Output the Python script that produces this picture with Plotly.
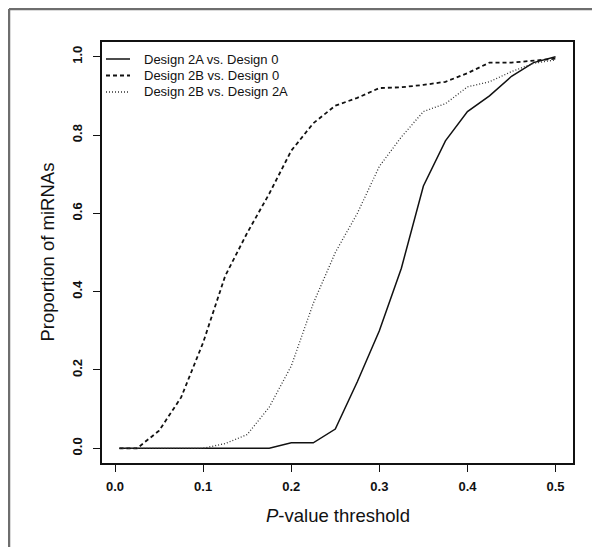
import plotly.graph_objects as go

thresholds = [0.005, 0.025, 0.05, 0.075, 0.1, 0.125, 0.15, 0.175, 0.2, 0.225, 0.25,
              0.275, 0.3, 0.325, 0.35, 0.375, 0.4, 0.425, 0.45, 0.475, 0.5]
design_2a_vs_0 = [0, 0, 0, 0, 0, 0, 0, 0, 0.014, 0.014, 0.049,
                  0.17, 0.30, 0.46, 0.67, 0.785, 0.86, 0.90, 0.95, 0.985, 1.0]
design_2b_vs_0 = [0, 0, 0.045, 0.13, 0.27, 0.44, 0.55, 0.65, 0.76, 0.83, 0.875,
                  0.895, 0.92, 0.922, 0.928, 0.936, 0.958, 0.985, 0.985, 0.99, 0.995]
design_2b_vs_2a = [0, 0, 0, 0, 0, 0.012, 0.035, 0.105, 0.21, 0.37, 0.5,
                   0.6, 0.72, 0.795, 0.86, 0.88, 0.923, 0.936, 0.962, 0.983, 0.992]

series_names = ["Design 2A vs. Design 0", "Design 2B vs. Design 0", "Design 2B vs. Design 2A"]
x_ticks = [0.0, 0.1, 0.2, 0.3, 0.4, 0.5]
y_ticks = [0.0, 0.2, 0.4, 0.6, 0.8, 1.0]

FONT = "Liberation Sans, Arial, Helvetica, sans-serif"

# the page body has an 8px margin, so the figure is sized/offset to compensate
OFF = 8
W, H = 600 - OFF, 547 - OFF
L, R, T, B = 102 - OFF, 27, 42 - OFF, 84
PW, PH = W - L - R, H - T - B


def px_x(px):  # page pixel -> paper x
    return (px - OFF - L) / PW


def px_y(py):  # page pixel -> paper y
    return (H - B - (py - OFF)) / PH


styles = [
    dict(color="#111111", width=1.5),
    dict(color="#111111", width=1.8, dash="4px,3px"),
    dict(color="#333333", width=1.3, dash="1px,2px"),
]
series = [design_2a_vs_0, design_2b_vs_0, design_2b_vs_2a]

fig = go.Figure()
for name, vals, st in zip(series_names, series, styles):
    fig.add_trace(go.Scatter(x=thresholds, y=vals, mode="lines", name=name,
                             line=st, showlegend=False))

fig.update_layout(
    width=W, height=H,
    margin=dict(l=L, r=R, t=T, b=B),
    paper_bgcolor="white", plot_bgcolor="white",
    font=dict(family=FONT, color="#111111"),
    showlegend=False,
    xaxis=dict(range=[-0.0148, 0.5198], tickvals=x_ticks, ticktext=[f"{v:.1f}" for v in x_ticks],
               showgrid=False, zeroline=False, showline=True, mirror=True,
               linecolor="#111111", linewidth=1.5, ticks="outside", ticklen=7,
               tickwidth=1.2, tickcolor="#111111", ticklabelstandoff=4,
               tickfont=dict(size=13, family=FONT, weight="bold")),
    yaxis=dict(range=[-0.0376, 1.0376], tickvals=y_ticks, ticktext=[f"{v:.1f}" for v in y_ticks],
               showgrid=False, zeroline=False, showline=True, mirror=True,
               linecolor="#111111", linewidth=1.5, ticks="outside", ticklen=7,
               tickwidth=1.2, tickcolor="#111111", tickangle=-90, ticklabelstandoff=6,
               tickfont=dict(size=13, family=FONT, weight="bold")),
)

# axis titles
fig.add_annotation(text="<i>P</i>-value threshold", xref="paper", yref="paper",
                   x=0.5, y=px_y(515), xanchor="center", yanchor="middle", showarrow=False,
                   font=dict(size=18.5, family=FONT, color="#111111"))
fig.add_annotation(text="Proportion of miRNAs", xref="paper", yref="paper",
                   x=px_x(47), y=0.5, xanchor="center", yanchor="middle", showarrow=False,
                   textangle=-90, font=dict(size=18.5, family=FONT, color="#111111"))

# legend (drawn manually, R style)
legend_rows = [59, 75.5, 92]
for name, st, row in zip(series_names, styles, legend_rows):
    fig.add_shape(type="line", xref="paper", yref="paper",
                  x0=px_x(106), x1=px_x(130), y0=px_y(row), y1=px_y(row), line=st)
    fig.add_annotation(text=name, xref="paper", yref="paper", x=px_x(142), y=px_y(row),
                       xanchor="left", yanchor="middle", showarrow=False,
                       font=dict(size=13, family=FONT, color="#111111"))

# outer figure frame (top and left edges visible)
fig.add_shape(type="line", xref="paper", yref="paper", x0=px_x(9), x1=px_x(620),
              y0=px_y(9), y1=px_y(9), line=dict(color="#6e6e6e", width=2.5))
fig.add_shape(type="line", xref="paper", yref="paper", x0=px_x(9), x1=px_x(9),
              y0=px_y(570), y1=px_y(9), line=dict(color="#6e6e6e", width=2.5))

fig.write_html("out.html")
